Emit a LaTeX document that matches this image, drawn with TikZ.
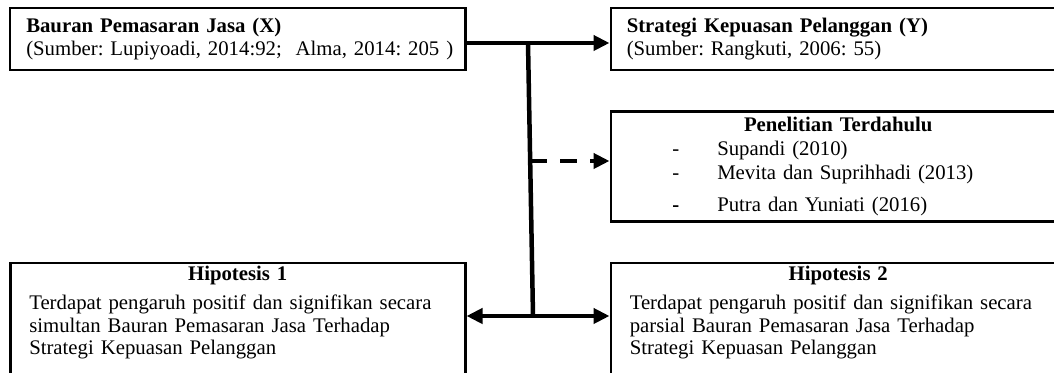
\documentclass[tikz,border=0pt]{standalone}
\usepackage{fontspec}
\setmainfont{Liberation Serif}
\usetikzlibrary{arrows.meta,positioning}
\tikzstyle{box} = [rectangle, draw, line width=0.05cm, minimum width=9.1cm,
inner ysep=0pt, align=left, font=\fontsize{11.82}{12.8}\selectfont\frenchspacing]
\tikzstyle{srcbox} = [box, inner xsep=0.32cm, text width=8.46cm, minimum height=1.24cm]
\tikzstyle{hypbox} = [box, inner xsep=0.38cm, text width=8.34cm, minimum height=2.28cm]
\tikzstyle{link} = [line width=0.09cm, -{Triangle[length=0.32cm,width=0.3cm]}]
\newcommand{\boxtitle}[1]{\makebox[8.34cm]{\textbf{#1}}}

\begin{document}
\begin{tikzpicture}[node distance=2.86cm]
\useasboundingbox (0,0) rectangle (21.08,-7.46);
\node [srcbox, anchor=north west] (bauran) at (0.18,-0.14) {\textbf{Bauran Pemasaran Jasa (X)}\\\mbox{(Sumber: Lupiyoadi, 2014:92;~~Alma, 2014: 205 )}};
\node [srcbox, right=of bauran] (strategi) {\textbf{Strategi Kepuasan Pelanggan (Y)}\\(Sumber: Rangkuti, 2006: 55)};
\node [hypbox, minimum height=2.2cm, below=0.78cm of strategi] (penelitian) {\boxtitle{Penelitian Terdahulu}\\[0.8pt]
\hspace*{0.85cm}\makebox[0.9cm][l]{-}Supandi (2010)\\[0.8pt]
\hspace*{0.85cm}\makebox[0.9cm][l]{-}Mevita dan Suprihhadi (2013)\\[5.4pt]
\hspace*{0.85cm}\makebox[0.9cm][l]{\textbf{-}}Putra dan Yuniati (2016)};
\node [hypbox, below=0.78cm of penelitian] (hipo2) {\boxtitle{Hipotesis 2}\\[3.7pt]
Terdapat pengaruh positif dan signifikan secara\\
parsial Bauran Pemasaran Jasa Terhadap\\
Strategi Kepuasan Pelanggan\rule[-11pt]{0pt}{0pt}};
\node [hypbox, left=of hipo2] (hipo1) {\boxtitle{Hipotesis 1}\\[3.7pt]
Terdapat pengaruh positif dan signifikan secara\\
simultan Bauran Pemasaran Jasa Terhadap\\
Strategi Kepuasan Pelanggan\rule[-11pt]{0pt}{0pt}};
\coordinate (upper) at (10.56,-0.86);
\coordinate (middle) at (10.60,-3.22);
\coordinate (lower) at (10.66,-6.32);
\draw [line width=0.09cm] (upper) -- (lower);
\draw [link] (bauran.east |- upper) -- (strategi.west |- upper);
\draw [link, dash pattern=on 0.34cm off 0.26cm] (middle) -- (penelitian.west |- middle);
\draw [link, {Triangle[length=0.32cm,width=0.3cm]}-{Triangle[length=0.32cm,width=0.3cm]}] (hipo1.east |- lower) -- (hipo2.west |- lower);
\end{tikzpicture}
\end{document}
